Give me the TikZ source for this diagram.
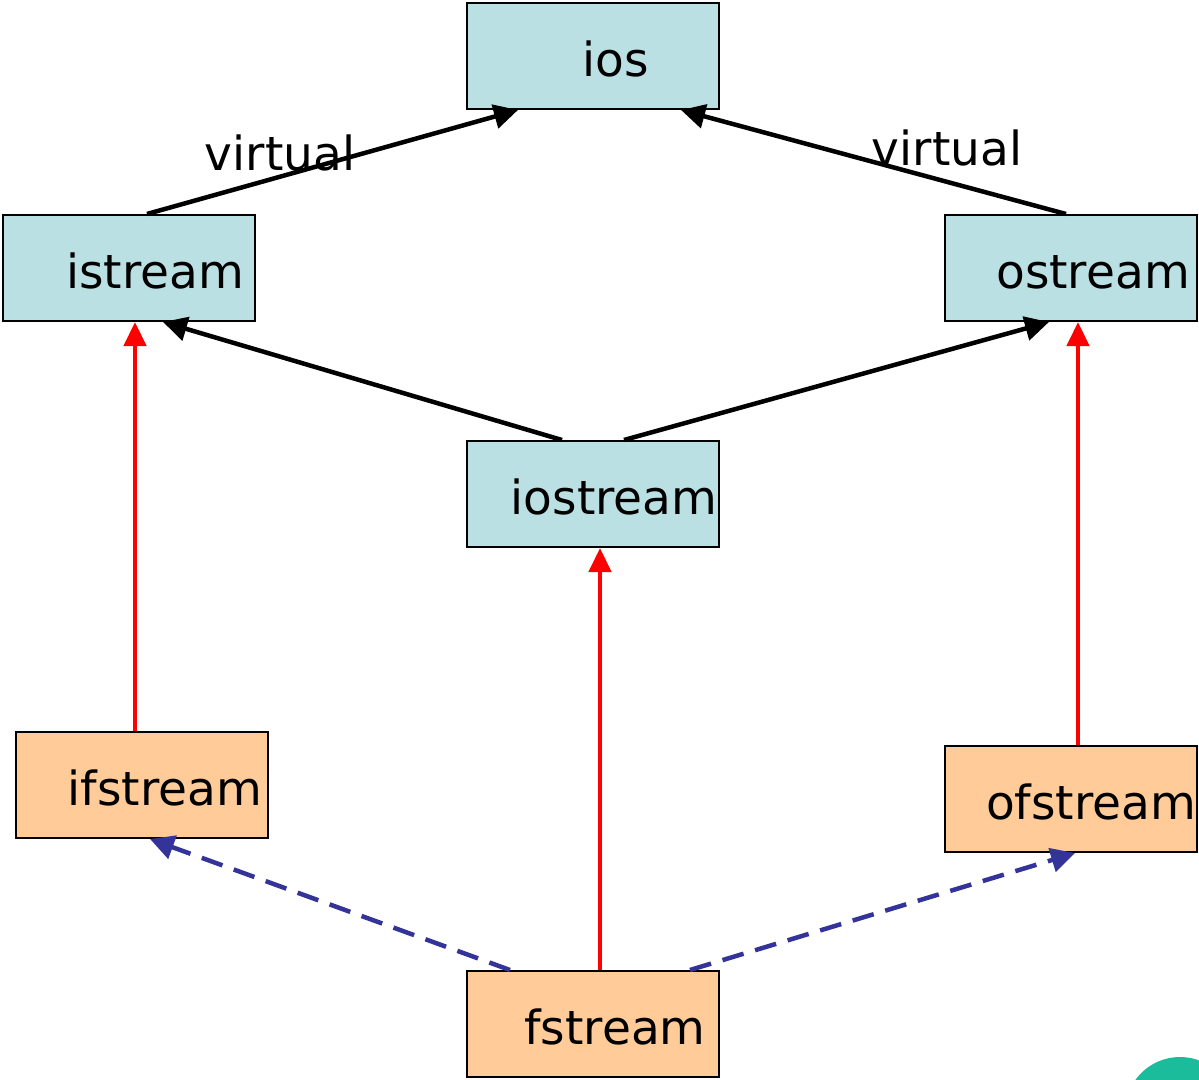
\documentclass[tikz,border=0pt]{standalone}
\usepackage{fontspec}
\setmainfont{DejaVu Sans}
\usetikzlibrary{arrows.meta}
\definecolor{classblue}{HTML}{BBE0E3}
\definecolor{fileorange}{HTML}{FFCC99}
\definecolor{dashblue}{HTML}{333399}
\definecolor{cornerteal}{HTML}{1ABC9C}

\begin{document}
\begin{tikzpicture}[x=1pt, y=-1pt,
    every node/.style={font=\fontsize{47}{56}\selectfont},
    cls/.style={draw=black, line width=2pt, minimum width=252pt, minimum height=106pt,
                inner sep=0pt, text height=40pt, text depth=-4pt},
    basecls/.style={cls, fill=classblue},
    filecls/.style={cls, fill=fileorange},
    inherit/.style={line width=4.5pt, -{Triangle[length=24pt,width=24pt]}},
    redarrow/.style={line width=4.5pt, red, -{Triangle[length=24pt,width=22pt]}},
    dasharrow/.style={line width=4.5pt, dashblue, dash pattern=on 22pt off 12pt,
                      -{Triangle[length=24pt,width=24pt]}}]
  \useasboundingbox (0,0) rectangle (1199,1079);
  \fill[cornerteal] (1180,1112) circle (55pt);

  % class boxes
  \node[basecls] (ios) at (593,56) {\hspace{46pt}ios};
  \node[basecls] (istream) at (129,268) {\hspace{52pt}istream};
  \node[basecls] (ostream) at (1071,268) {\hspace{44pt}ostream};
  \node[basecls] (iostream) at (593,494) {\hspace{42pt}iostream};
  \node[filecls] (ifstream) at (142,785) {\hspace{46pt}ifstream};
  \node[filecls] (ofstream) at (1071,799) {\hspace{40pt}ofstream};
  \node[filecls] (fstream) at (593,1024) {\hspace{44pt}fstream};

  % virtual inheritance
  \draw[inherit] ([xshift=18pt]istream.north) -- ([xshift=-75pt]ios.south);
  \draw[inherit] ([xshift=-5pt]ostream.north) -- ([xshift=88pt]ios.south);
  \node[anchor=base] (virtl) at (280,170) {virtual};
  \node[anchor=base] (virtr) at (947,165) {virtual};

  \draw[inherit] ([xshift=-31pt]iostream.north) -- ([xshift=34pt]istream.south);
  \draw[inherit] ([xshift=31pt]iostream.north) -- ([xshift=-22pt]ostream.south);

  % file streams
  \draw[redarrow] ([xshift=-7pt]ifstream.north) -- ([xshift=6pt]istream.south);
  \draw[redarrow] ([xshift=7pt]fstream.north) -- ([xshift=7pt]iostream.south);
  \draw[redarrow] ([xshift=7pt]ofstream.north) -- ([xshift=7pt]ostream.south);

  \draw[dasharrow] ([xshift=-83pt]fstream.north) -- ([xshift=8pt]ifstream.south);
  \draw[dasharrow] ([xshift=97pt]fstream.north) -- ([xshift=4pt]ofstream.south);
\end{tikzpicture}
\end{document}
